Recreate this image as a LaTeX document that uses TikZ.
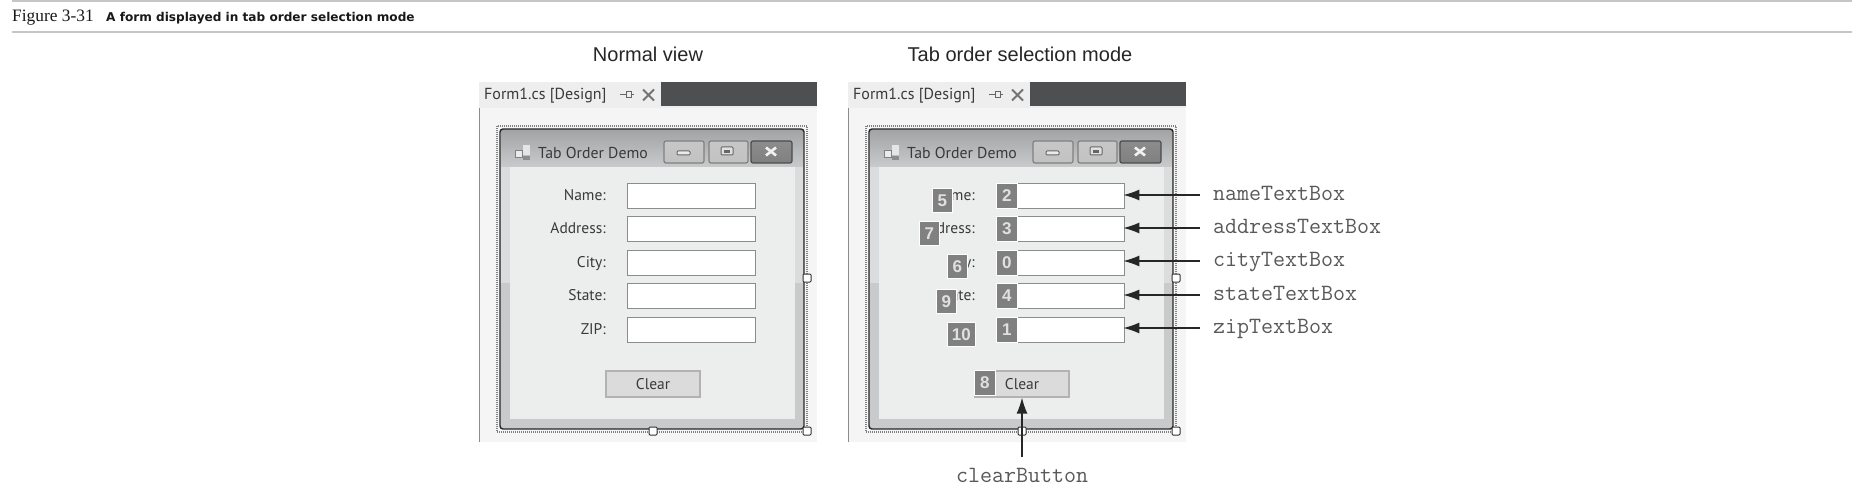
\documentclass[tikz,border=0pt]{standalone}
\usepackage{fontspec}
\setmainfont{Liberation Sans}
\newfontfamily\capserif{Liberation Serif}
\newfontfamily\capbold{DejaVu Sans}
\newfontfamily\uifont{PT Sans}
\usetikzlibrary{arrows.meta}
\definecolor{ruleg}{HTML}{C6C6C6}
\definecolor{panelbg}{HTML}{F5F5F5}
\definecolor{tabrow}{HTML}{EEEEEE}
\definecolor{tabdark}{HTML}{4E4F51}
\definecolor{clientbg}{HTML}{ECEDED}
\definecolor{framebg}{HTML}{C8CACB}
\definecolor{frametop}{HTML}{A2A4A5}
\definecolor{framelight}{HTML}{DADCDD}
\definecolor{inkd}{HTML}{3A3A3A}
\definecolor{boxln}{HTML}{8C8C8C}
\definecolor{ordg}{HTML}{808080}
\tikzset{
  fs/.style={font=\fontsize{#1}{#1}\selectfont},
  ui/.style={font=\fontsize{#1}{#1}\selectfont\uifont},
  headtxt/.style={fs=20,text=black!85,inner sep=0pt},
  tboxn/.style={draw=boxln,line width=1.3pt,fill=white,minimum width=128pt,minimum height=25pt,inner sep=0pt,anchor=north west},
  flabel/.style={ui=15.5,text=inkd,inner sep=0pt,anchor=east,text height=11pt,text depth=3pt},
  clearbtn/.style={draw=black!30,line width=1.2pt,fill=black!14,minimum width=94pt,minimum height=26pt,inner sep=0pt,text=inkd,ui=15.5},
  ordbox/.style={draw=white,line width=.8pt,fill=ordg,text=black!12,inner sep=0pt,font=\fontsize{17}{17}\selectfont\bfseries,anchor=north west},
  handle/.style={draw=black!80,line width=1pt,fill=white,rounded corners=1pt,minimum size=8pt,inner sep=0pt},
  monolab/.style={font=\fontsize{23.3}{23.3}\selectfont\ttfamily,text=black!65,inner ysep=0pt,inner xsep=13pt,anchor=west,text height=15.4pt,text depth=4pt},
  callout/.style={-{Latex[length=16pt,width=11pt]},line width=1.4pt,draw=black!85,shorten >=-2pt},
  winbtn/.style={draw=black!50,line width=1.2pt,rounded corners=2pt,top color=black!22,middle color=black!36,bottom color=black!24},
  dotbox/.style={draw=black!50,line width=1.6pt,dash pattern=on 1pt off 1pt},
}
\newcommand{\formwin}[1]{%
\begin{scope}[xshift=#1pt]
  \fill[panelbg] (479,82) rectangle (817,442);
  \fill[tabrow] (479,82) rectangle (817,108);
  \fill[tabdark] (661,82) rectangle (817,106);
  \draw[black!45,line width=1pt] (479,108) -- (479,442);
  \node[ui=16,text=inkd,inner sep=0pt,anchor=west] at (484,96) {Form1.cs [Design]};
  \draw[black!60,line width=1pt] (620,95) -- (626,95) (626,92) rectangle (631,98) (631,95) -- (634,95);
  \draw[black!55,line width=1.8pt] (643,89.5) -- (654,100.5) (643,100.5) -- (654,89.5);
  \draw[dotbox] (497,126) rectangle (807,432);
  \fill[framebg] (500,129) rectangle (804,429);
  \shade[top color=frametop,bottom color=framebg] (501,130) rectangle (803,167);
  \fill[framelight] (501,167) rectangle (510,283);
  \fill[framelight] (795,167) rectangle (803,283);
  \fill[clientbg] (510,167) rectangle (795,419);
  \draw[black!85,line width=1.4pt,rounded corners=3pt] (500,429) -- (500,129) -- (804,129) -- (804,429) -- cycle;
  \draw[black!50,fill=black!8,line width=.6pt] (515,150) rectangle (522,157);
  \fill[black!10] (523,145) rectangle (530,155);
  \fill[black!45] (523,156) rectangle (530,160);
  \node[ui=15.8,text=inkd,inner sep=0pt,anchor=west] at (538,153) {Tab Order Demo};
  \draw[winbtn] (664,141) rectangle (704,163);
  \draw[winbtn] (709,141) rectangle (748,163);
  \draw[winbtn,top color=black!45,middle color=black!65,bottom color=black!50,draw=black!70] (751,141) rectangle (792,163);
  \draw[black!60,fill=black!8,line width=1pt,rounded corners=1pt] (677,151) rectangle (690,155);
  \draw[black!60,fill=black!12,line width=1pt,rounded corners=1pt] (721,147) rectangle (733,155);
  \fill[black!60] (724,150) rectangle (730,153);
  \draw[black!6,line width=2.6pt] (766,147.5) -- (776,155.5) (766,155.5) -- (776,147.5);
  \node[handle] (#1h1) at (807,278) {};
  \node[handle] (#1h2) at (653,431) {};
  \node[handle] (#1h3) at (807,431) {};
\end{scope}}
\begin{document}
\begin{tikzpicture}[x=1pt,y=-1pt]
\useasboundingbox (0,0) rectangle (1875,500);
\fill[white] (0,0) rectangle (1875,500);
\draw[ruleg,line width=2pt] (12,1) -- (1852,1);
\draw[ruleg,line width=2pt] (12,32) -- (1852,32);
\node[inner sep=0pt,anchor=west,text=black!90] (figno) at (12,17.5) {\fontsize{17.4}{17.4}\capserif Figure 3-31};
\node[inner sep=0pt,anchor=west,text=black!90] (figcap) at (106,18) {\fontsize{12.1}{12.1}\capbold\bfseries A form displayed in tab order selection mode};
\node[headtxt] (h1) at (648,54) {Normal view};
\node[headtxt] (h2) at (1020,54) {Tab order selection mode};

\formwin{0}
\foreach \n/\lab/\yy in {a/Name:/183,b/Address:/216,c/City:/250,d/State:/283,e/ZIP:/317}{
  \node[tboxn] (l\n) at (627,\yy) {};
  \node[flabel] at (606,\yy+13.5) {\lab};
}
\node[clearbtn] (lclear) at (653,384) {Clear};

\formwin{369}
\foreach \lab/\yy in {me:/183,dress:/216,y:/250,ate:/283}{
  \node[flabel] at (975,\yy+13.5) {\lab};
}
\node[tboxn] (nameb) at (996,183) {};
\node[tboxn] (addrb) at (996,216) {};
\node[tboxn] (cityb) at (996,250) {};
\node[tboxn] (stateb) at (996,283) {};
\node[tboxn] (zipb) at (996,317) {};
\node[clearbtn] (clearb) at (1022,384) {Clear};
\foreach \n/\t/\xx/\yy/\w/\h in {o2/2/996/183/21/25,o3/3/996/216/21/25,o0/0/996/250/21/25,o4/4/996/283/21/25,o1/1/996/317/21/25,o8/8/974/370/21/25,o5/5/932/188/20/24,o7/7/919/221/20/24,o6/6/947/254/20/24,o9/9/936/289/20/24,o10/10/947/322/28/24}{
  \node[ordbox,minimum width=\w pt,minimum height=\h pt] (\n) at (\xx,\yy) {\t};
}
\node[monolab] (nameL) at (1200,195) {nameTextBox};
\node[monolab] (addrL) at (1200,228) {addressTextBox};
\node[monolab] (cityL) at (1200,261) {cityTextBox};
\node[monolab] (stateL) at (1200,295) {stateTextBox};
\node[monolab] (zipL) at (1200,328) {zipTextBox};
\node[monolab,anchor=center,inner xsep=0pt] (clearL) at (1022,477) {clearButton};
\foreach \a/\b in {nameL/nameb,addrL/addrb,cityL/cityb,stateL/stateb,zipL/zipb}{
  \draw[callout] (\a.west) -- (\a.west -| \b.east);
}
\coordinate (clearS) at (1022,457);
\draw[callout,shorten >=0pt] (clearS) -- (clearb.south);
\end{tikzpicture}
\end{document}
